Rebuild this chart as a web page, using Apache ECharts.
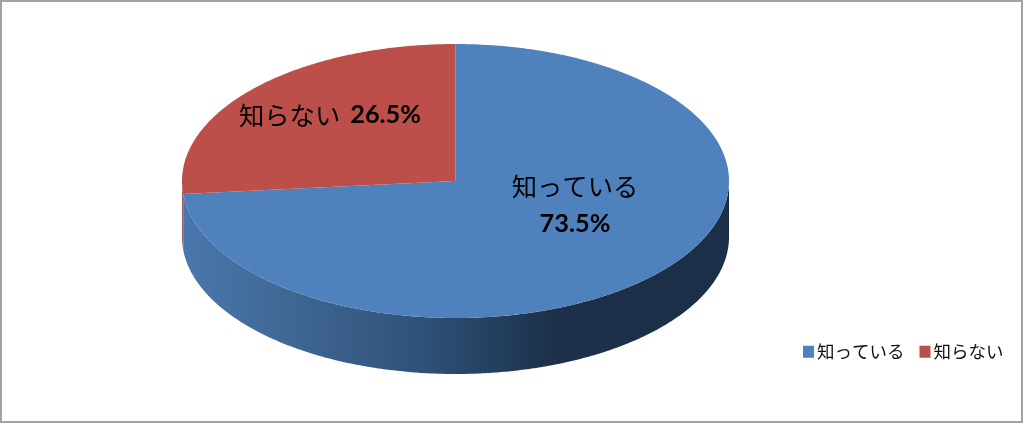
<!DOCTYPE html>
<html><head><meta charset="utf-8">
<style>html,body{margin:0;padding:0;background:#fff}
#c{position:absolute;left:0;top:0;width:1024px;height:424px;box-sizing:border-box}</style>
<script src="https://cdn.jsdelivr.net/npm/echarts@6/dist/echarts.min.js"></script>
</head><body><div id="c"></div>
<script>
const categories = ['知っている', '知らない'];
const shares = [73.5, 26.5];
const valueLabels = ['73.5%', '26.5%'];

const JP = '"Noto Sans CJK JP"', NUM = 'Lato, "Noto Sans"';
const colors = ['#4f81bd', '#bd4f4b'];
const wallColors = [null, '#9a5a62'];
const cx = 455.5, cy = 181, rx = 273.5, ry = 137, depth = 56;
const labelPos = [[575, 205], [330, 115]];
const chart = echarts.init(document.getElementById('c'), null, {renderer: 'canvas'});
const total = shares.reduce((a, b) => a + b, 0);
const pt = (deg, dy) => {
  const t = deg * Math.PI / 180;
  return [cx + rx * Math.sin(t), cy - ry * Math.cos(t) + (dy || 0)];
};
const arc = (a, b, dy) => {
  const n = Math.max(2, Math.ceil(Math.abs(b - a) * 2)), out = [];
  for (let i = 0; i <= n; i++) out.push(pt(a + (b - a) * i / n, dy));
  return out;
};
const sideGradient = new echarts.graphic.LinearGradient(cx - rx, 0, cx + rx, 0, [
  {offset: 0, color: '#4a77ad'},
  {offset: 0.2, color: '#3f6793'},
  {offset: 0.44, color: '#2f5179'},
  {offset: 0.68, color: '#1c3049'},
  {offset: 1, color: '#1b2f48'}
], true);

function makeSlice(idx) {
  return function (params, api) {
    const start = api.value(1) / total * 360, end = start + api.value(0) / total * 360;
    const children = [];
    const wa = Math.max(start, 90), wb = Math.min(end, 270);
    if (wb > wa) {
      children.push({
        type: 'polygon',
        shape: {points: arc(wa, wb, 0).concat(arc(wb, wa, depth))},
        style: {fill: idx === 0 ? sideGradient : wallColors[idx]}
      });
    }
    children.push({
      type: 'polygon',
      shape: {points: [[cx, cy]].concat(arc(start, end, 0))},
      style: {fill: colors[idx]}
    });
    const text = idx === 0
      ? `{n|${categories[idx]}}\n{v|${valueLabels[idx]}}`
      : `{n|${categories[idx]}}{w|${valueLabels[idx]}}`;
    children.push({
      type: 'text', z2: 10,
      x: labelPos[idx][0], y: labelPos[idx][1],
      style: {
        text, align: 'center', verticalAlign: 'middle', fill: '#000',
        rich: {
          n: {fontFamily: JP, fontSize: 25.3, lineHeight: 37, fill: '#000'},
          v: {fontFamily: NUM, fontSize: 25.3, fontWeight: 'bold', lineHeight: 37, fill: '#000'},
          w: {fontFamily: NUM, fontSize: 25.3, fontWeight: 'bold', lineHeight: 37, fill: '#000', padding: [0, 0, 0, 10]}
        }
      }
    });
    return {type: 'group', children};
  };
}
let cum = 0;
const series = categories.map((name, i) => {
  const s = {
    type: 'custom', name, coordinateSystem: 'none', silent: true,
    itemStyle: {color: colors[i]},
    renderItem: makeSlice(i),
    data: [[shares[i], cum]]
  };
  cum += shares[i];
  return s;
});
chart.setOption({
  animation: false,
  backgroundColor: '#fff',
  graphic: [{
    type: 'rect', z: -1, silent: true,
    shape: {x: 1, y: 1, width: 1021, height: 421},
    style: {fill: '#fff', stroke: '#a3a3a3', lineWidth: 2}
  }],
  legend: {
    data: categories, left: 798, top: 338, orient: 'horizontal',
    icon: 'rect', itemWidth: 11, itemHeight: 12, itemGap: 15, selectedMode: false,
    textStyle: {fontFamily: JP, fontSize: 17.5, color: '#111', padding: [0, 0, 0, -2]}
  },
  series
});
</script></body></html>
